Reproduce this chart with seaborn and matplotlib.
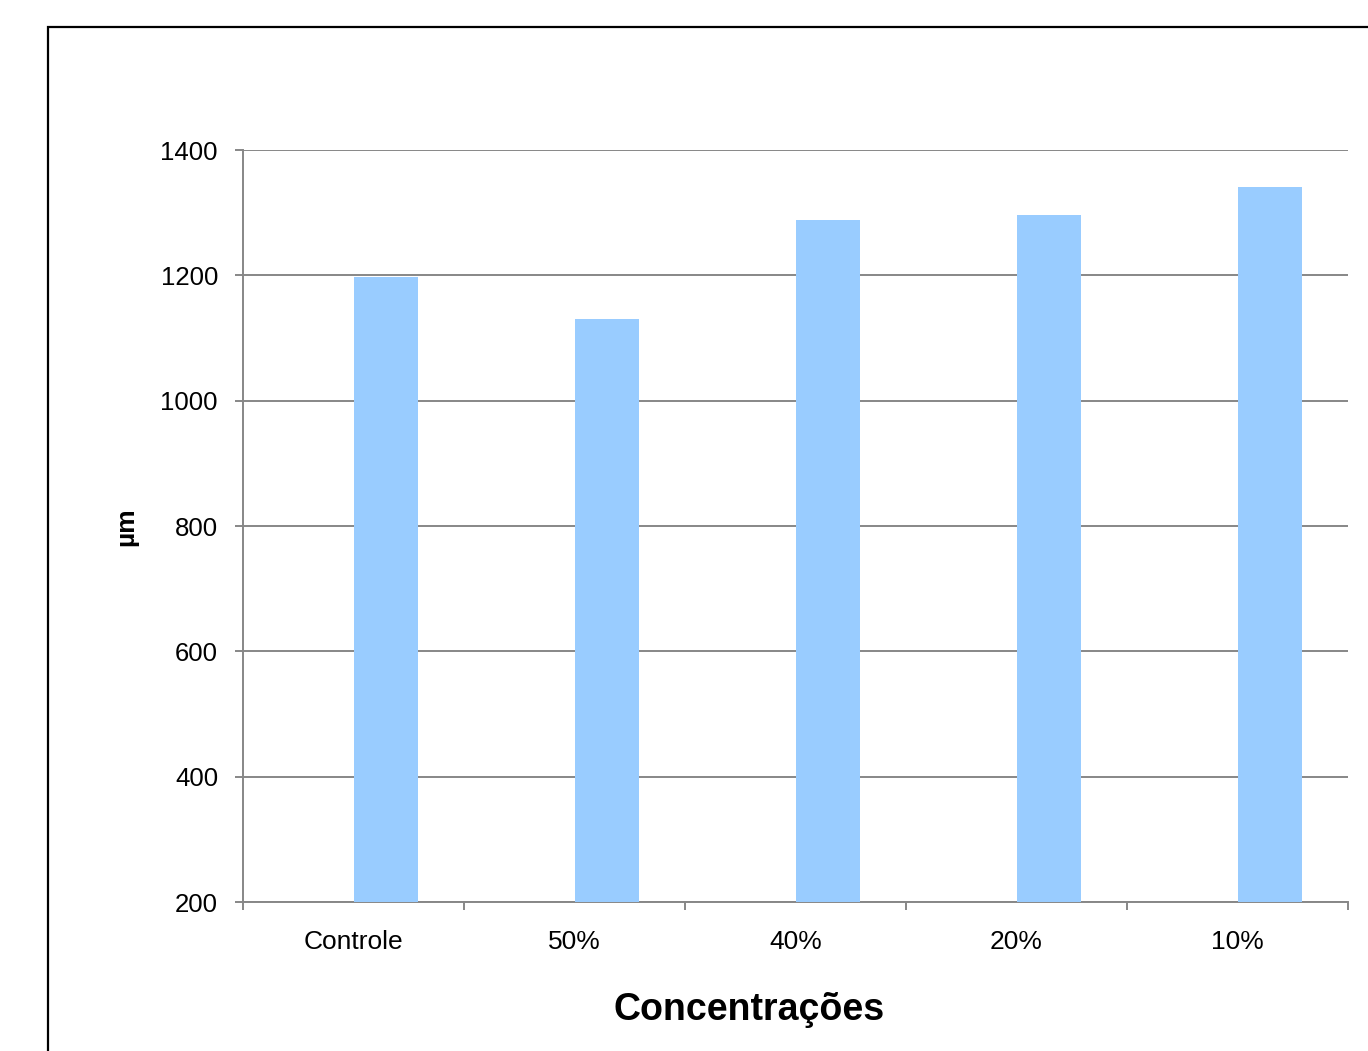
import matplotlib
matplotlib.use("Agg")
import matplotlib.pyplot as plt
import seaborn as sns
import pandas as pd
import numpy as np
from matplotlib.patches import Rectangle
from matplotlib.ticker import FixedLocator

categories = ["Controle", "50%", "40%", "20%", "10%"]
values = [1197, 1130, 1288, 1296, 1341]
yticks = [200, 400, 600, 800, 1000, 1200, 1400]

sns.set_theme(style="white")
plt.rcParams['font.family'] = ['Liberation Sans', 'DejaVu Sans']
plt.rcParams['text.color'] = 'black'
plt.rcParams['axes.labelcolor'] = 'black'

W, H = 1368, 1051
fig = plt.figure(figsize=(W / 100, H / 100), dpi=100)
ax = fig.add_axes([243 / W, 1 - 902 / H, (1348 - 243) / W, (902 - 150) / H])

df = pd.DataFrame({"cat": categories, "val": values, "serie": ["µm"] * len(values)})
sns.barplot(data=df, x="cat", y="val", hue="serie", hue_order=["_vazio", "µm"],
            palette={"_vazio": "#FFFFFF", "µm": "#99CCFF"}, saturation=1,
            width=0.58, dodge=True, gap=0, ax=ax, zorder=3, legend=False,
            linewidth=0)

ax.set_ylim(200, 1400)
ax.set_xlim(-0.5, len(categories) - 0.5)
ax.set_yticks(yticks)
ax.yaxis.grid(True, color="#878787", linewidth=1.4, zorder=0)
ax.set_axisbelow(True)

for s in ["top", "right"]:
    ax.spines[s].set_visible(False)
for s in ["left", "bottom"]:
    ax.spines[s].set_color("#878787")
    ax.spines[s].set_linewidth(1.4)

ax.tick_params(axis="y", which="major", length=6, width=1.4, color="#878787",
               labelsize=18.5, labelcolor="black", pad=12, left=True, direction="out")
ax.tick_params(axis="x", which="major", length=0, labelsize=19, labelcolor="black", pad=20)
ax.xaxis.set_minor_locator(FixedLocator(np.arange(-0.5, len(categories), 1.0)))
ax.tick_params(axis="x", which="minor", length=6, width=1.4, color="#878787",
               bottom=True, direction="out")

ax.set_xlabel("Concentrações", fontsize=27, fontweight="bold")
ax.set_ylabel("µm", fontsize=19, fontweight="bold")
ax.xaxis.set_label_coords((749 - 243) / 1105, -(1010 - 902) / 752, transform=ax.transAxes)
ax.xaxis.label.set_va("center")
ax.yaxis.set_label_coords(-(243 - 126) / 1105, (902 - 527) / 752, transform=ax.transAxes)
ax.yaxis.label.set_va("center")

# outer chart frame
fig.patches.append(Rectangle((48 / W, -0.05), 1.2, 1 - 27 / H + 0.05,
                             transform=fig.transFigure, fill=False,
                             edgecolor="black", linewidth=1.6, zorder=10))

fig.savefig("out.png", dpi=100, facecolor="white")
